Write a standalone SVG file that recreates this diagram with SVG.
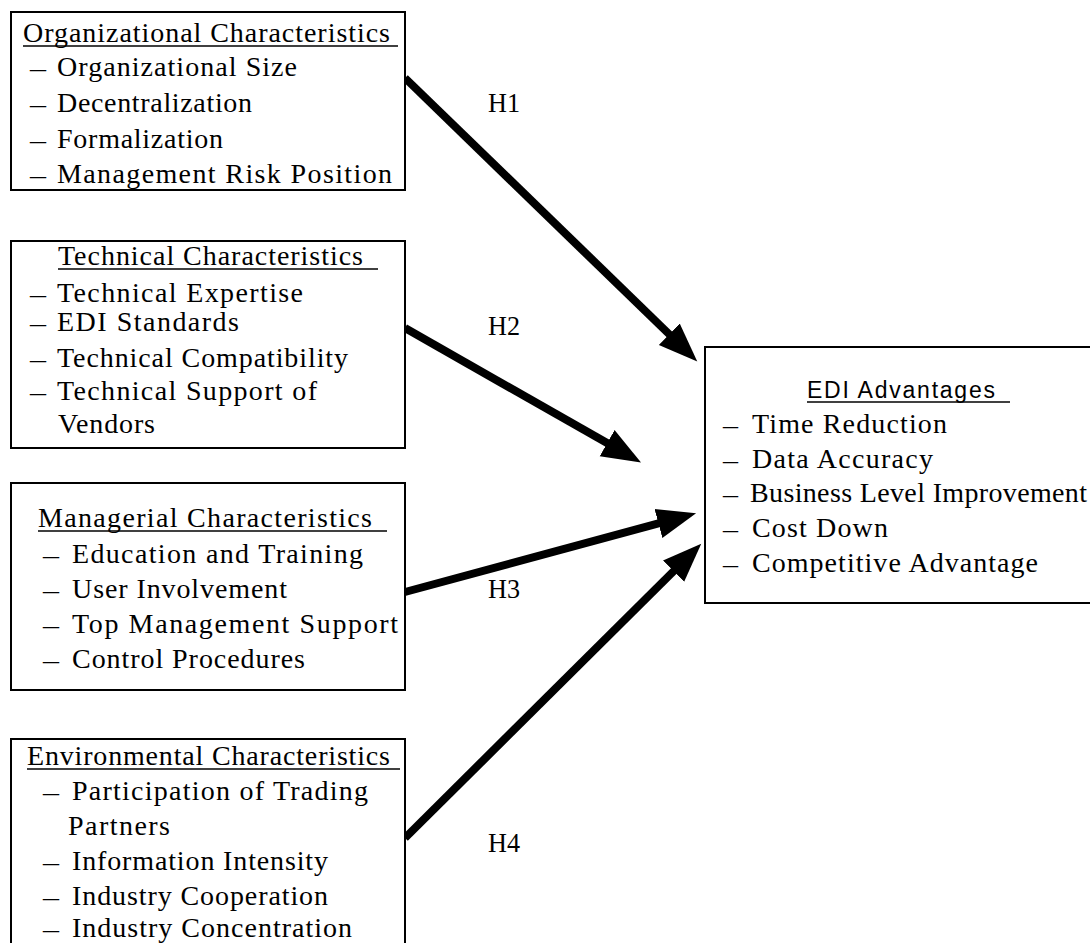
<svg xmlns="http://www.w3.org/2000/svg" width="1090" height="943" viewBox="0 0 1090 943">
  <style>
    .box { fill: #fff; stroke: #000; stroke-width: 2; }
    .t { font-family: "Liberation Serif", "Times New Roman", serif; font-size: 28px; fill: #000; }
    .d { font-family: "Liberation Serif", "Times New Roman", serif; font-size: 24px; fill: #000; }
    .s { font-family: "Liberation Sans", Arial, sans-serif; font-size: 23px; fill: #000; }
    .h { font-family: "Liberation Serif", "Times New Roman", serif; font-size: 28px; fill: #000; }
    .ul { stroke: #000; stroke-width: 1.5; }
    .arrow { fill: none; stroke: #000; stroke-width: 8; marker-end: url(#head); }
  </style>
  <defs>
    <marker id="head" markerUnits="userSpaceOnUse" markerWidth="42" markerHeight="34" viewBox="0 -17 42 34" refX="1" refY="0" orient="auto">
      <path d="M0,-15 L39,0 L0,15 Z" fill="#000"/>
    </marker>
  </defs>
  <rect width="1090" height="943" fill="#fff"/>

  <!-- connectors -->
  <g id="connectors">
    <line class="arrow" x1="405" y1="78" x2="670" y2="335"/>
    <line class="arrow" x1="405" y1="328" x2="608" y2="443.6"/>
    <line class="arrow" x1="405" y1="592" x2="659.4" y2="523.2"/>
    <line class="arrow" x1="405" y1="838" x2="674.3" y2="570.5"/>
    <text class="h" x="488" y="112" textLength="32" lengthAdjust="spacingAndGlyphs">H1</text>
    <text class="h" x="488" y="335" textLength="32" lengthAdjust="spacingAndGlyphs">H2</text>
    <text class="h" x="488" y="598" textLength="32" lengthAdjust="spacingAndGlyphs">H3</text>
    <text class="h" x="488" y="852" textLength="32" lengthAdjust="spacingAndGlyphs">H4</text>
  </g>

  <!-- organizational characteristics -->
  <g id="organizational">
    <rect class="box" x="11" y="12" width="394" height="178"/>
    <text class="t" x="23" y="42" textLength="367" lengthAdjust="spacing">Organizational Characteristics</text>
    <line class="ul" x1="23" y1="46" x2="398" y2="46"/>
    <text class="d" x="30" y="76" textLength="16" lengthAdjust="spacingAndGlyphs">–</text>
    <text class="t" x="57" y="76" textLength="240" lengthAdjust="spacing">Organizational Size</text>
    <text class="d" x="30" y="112" textLength="16" lengthAdjust="spacingAndGlyphs">–</text>
    <text class="t" x="57" y="112" textLength="195" lengthAdjust="spacing">Decentralization</text>
    <text class="d" x="30" y="148" textLength="16" lengthAdjust="spacingAndGlyphs">–</text>
    <text class="t" x="57" y="148" textLength="166" lengthAdjust="spacing">Formalization</text>
    <text class="d" x="30" y="183" textLength="16" lengthAdjust="spacingAndGlyphs">–</text>
    <text class="t" x="57" y="183" textLength="335" lengthAdjust="spacing">Management Risk Position</text>
  </g>

  <!-- technical characteristics -->
  <g id="technical">
    <rect class="box" x="11" y="241" width="394" height="207"/>
    <text class="t" x="58" y="265" textLength="305" lengthAdjust="spacing">Technical Characteristics</text>
    <line class="ul" x1="58" y1="269" x2="378" y2="269"/>
    <text class="d" x="30" y="302" textLength="16" lengthAdjust="spacingAndGlyphs">–</text>
    <text class="t" x="57" y="302" textLength="246" lengthAdjust="spacing">Technical Expertise</text>
    <text class="d" x="30" y="331" textLength="16" lengthAdjust="spacingAndGlyphs">–</text>
    <text class="t" x="57" y="331" textLength="182" lengthAdjust="spacing">EDI Standards</text>
    <text class="d" x="30" y="367" textLength="16" lengthAdjust="spacingAndGlyphs">–</text>
    <text class="t" x="57" y="367" textLength="291" lengthAdjust="spacing">Technical Compatibility</text>
    <text class="d" x="30" y="400" textLength="16" lengthAdjust="spacingAndGlyphs">–</text>
    <text class="t" x="57" y="400" textLength="260" lengthAdjust="spacing">Technical Support of</text>
    <text class="t" x="58" y="433" textLength="97" lengthAdjust="spacing">Vendors</text>
  </g>

  <!-- managerial characteristics -->
  <g id="managerial">
    <rect class="box" x="11" y="483" width="394" height="207"/>
    <text class="t" x="38" y="527" textLength="334" lengthAdjust="spacing">Managerial Characteristics</text>
    <line class="ul" x1="38" y1="531" x2="387" y2="531"/>
    <text class="d" x="43" y="563" textLength="16" lengthAdjust="spacingAndGlyphs">–</text>
    <text class="t" x="72" y="563" textLength="291" lengthAdjust="spacing">Education and Training</text>
    <text class="d" x="43" y="598" textLength="16" lengthAdjust="spacingAndGlyphs">–</text>
    <text class="t" x="72" y="598" textLength="215" lengthAdjust="spacing">User Involvement</text>
    <text class="d" x="43" y="633" textLength="16" lengthAdjust="spacingAndGlyphs">–</text>
    <text class="t" x="72" y="633" textLength="326" lengthAdjust="spacing">Top Management Support</text>
    <text class="d" x="43" y="668" textLength="16" lengthAdjust="spacingAndGlyphs">–</text>
    <text class="t" x="72" y="668" textLength="233" lengthAdjust="spacing">Control Procedures</text>
  </g>

  <!-- environmental characteristics -->
  <g id="environmental">
    <rect class="box" x="11" y="739" width="394" height="220"/>
    <text class="t" x="27" y="765" textLength="363" lengthAdjust="spacing">Environmental Characteristics</text>
    <line class="ul" x1="27" y1="769" x2="400" y2="769"/>
    <text class="d" x="43" y="800" textLength="16" lengthAdjust="spacingAndGlyphs">–</text>
    <text class="t" x="72" y="800" textLength="296" lengthAdjust="spacing">Participation of Trading</text>
    <text class="t" x="68" y="835" textLength="102" lengthAdjust="spacing">Partners</text>
    <text class="d" x="43" y="870" textLength="16" lengthAdjust="spacingAndGlyphs">–</text>
    <text class="t" x="72" y="870" textLength="256" lengthAdjust="spacing">Information Intensity</text>
    <text class="d" x="43" y="905" textLength="16" lengthAdjust="spacingAndGlyphs">–</text>
    <text class="t" x="72" y="905" textLength="256" lengthAdjust="spacing">Industry Cooperation</text>
    <text class="d" x="43" y="937" textLength="16" lengthAdjust="spacingAndGlyphs">–</text>
    <text class="t" x="72" y="937" textLength="280" lengthAdjust="spacing">Industry Concentration</text>
  </g>

  <!-- EDI advantages -->
  <g id="edi-advantages">
    <rect class="box" x="705" y="347" width="392" height="256"/>
    <text class="s" x="807" y="398" textLength="188" lengthAdjust="spacing">EDI Advantages</text>
    <line class="ul" x1="807" y1="402" x2="1010" y2="402"/>
    <text class="d" x="723" y="433" textLength="15" lengthAdjust="spacingAndGlyphs">–</text>
    <text class="t" x="752" y="433" textLength="195" lengthAdjust="spacing">Time Reduction</text>
    <text class="d" x="723" y="468" textLength="15" lengthAdjust="spacingAndGlyphs">–</text>
    <text class="t" x="752" y="468" textLength="181" lengthAdjust="spacing">Data Accuracy</text>
    <text class="d" x="723" y="502" textLength="15" lengthAdjust="spacingAndGlyphs">–</text>
    <text class="t" x="750" y="502" textLength="337" lengthAdjust="spacing">Business Level Improvement</text>
    <text class="d" x="723" y="537" textLength="15" lengthAdjust="spacingAndGlyphs">–</text>
    <text class="t" x="752" y="537" textLength="136" lengthAdjust="spacing">Cost Down</text>
    <text class="d" x="723" y="572" textLength="15" lengthAdjust="spacingAndGlyphs">–</text>
    <text class="t" x="752" y="572" textLength="286" lengthAdjust="spacing">Competitive Advantage</text>
  </g>
</svg>
